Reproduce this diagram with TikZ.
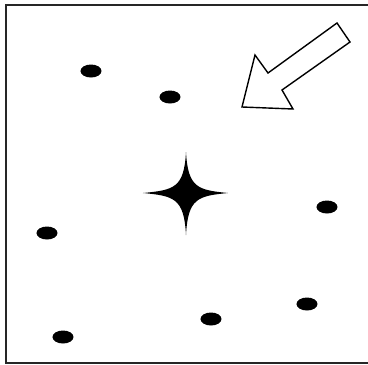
\documentclass[tikz,border=0pt]{standalone}
\usetikzlibrary{shapes.geometric}
\begin{document}
\begin{tikzpicture}[x=1pt,y=-1pt,
  dot/.style={fill=black,draw=none,ellipse,minimum width=21pt,minimum height=13pt,inner sep=0pt},
  frame/.style={draw=black!85,line width=2pt},
  hollow/.style={draw=black,line width=1.4pt,fill=white,line join=miter}]
\useasboundingbox (0,0) rectangle (368,365);
\fill[white] (0,0) rectangle (368,365);
\draw[frame] (6,5) -- (380,5) -- (380,363) -- (6,363) -- cycle;
\foreach \n/\x/\y in {d1/91/71, d2/170/97, d3/47/233, d4/63/337, d5/211/319, d6/307/304, d7/327/207} {
  \node[dot] (\n) at (\x,\y) {};
}
% hollow arrow
\draw[hollow] (242,107) -- (255,55) -- (268,73) -- (337,23) -- (350,42) -- (282,90) -- (293,109) -- cycle;
% star
\coordinate (s) at (186,193);
\fill[black] (143,193) .. controls (174,190) and (184,188) .. (186,152)
  .. controls (188,188) and (198,190) .. (228,193)
  .. controls (198,196) and (188,198) .. (186,235)
  .. controls (184,198) and (174,196) .. (143,193) -- cycle;
\end{tikzpicture}
\end{document}
